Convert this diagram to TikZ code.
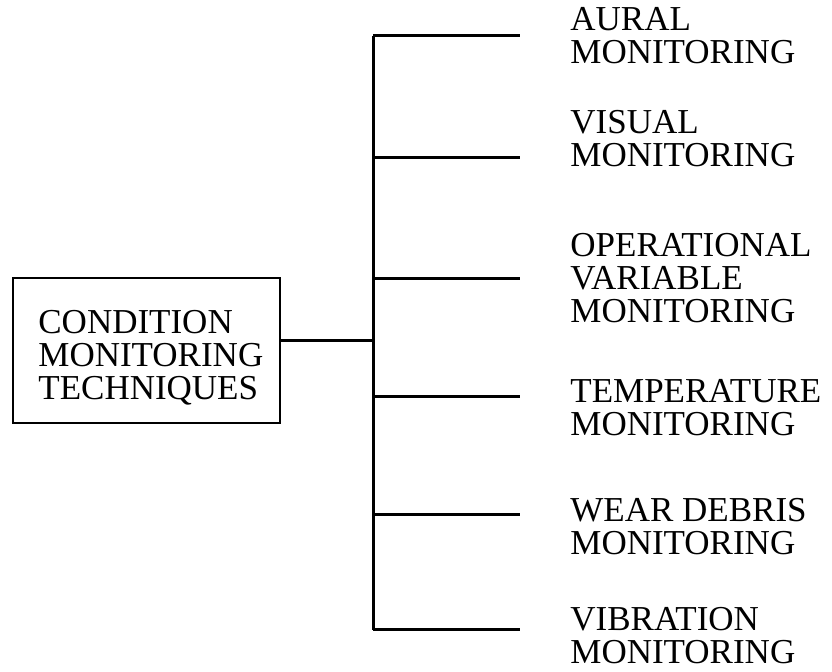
\documentclass[tikz,border=0pt]{standalone}
\usepackage{fontspec}
\setmainfont{Liberation Serif}
\usepackage{tikz}
\usetikzlibrary{positioning,calc}

\begin{document}
\begin{tikzpicture}[
    x=0.5pt, y=-0.5pt,
    techbox/.style={rectangle, draw, line width=1.2pt, minimum width=133.5pt, minimum height=72.5pt, inner sep=0pt},
    lbl/.style={anchor=west, align=left, inner sep=0pt, font=\fontsize{17.5pt}{16.5pt}\selectfont},
    branch/.style={line width=1.5pt},
]
    \useasboundingbox (0,0) rectangle (832,672);
    % main box on the left
    \node[techbox] (cmt) at (146.5,350.5) {};
    \node[lbl] (cmttxt) at (38,358) {CONDITION\\MONITORING\\TECHNIQUES};
    % trunk points and branch ends
    \coordinate (j) at (373,341);
    \coordinate (t1) at (373,36);  \coordinate (e1) at (520,36);
    \coordinate (t2) at (373,158); \coordinate (e2) at (520,158);
    \coordinate (t3) at (373,279); \coordinate (e3) at (520,279);
    \coordinate (t4) at (373,397); \coordinate (e4) at (520,397);
    \coordinate (t5) at (373,515); \coordinate (e5) at (520,515);
    \coordinate (t6) at (373,630); \coordinate (e6) at (520,630);
    % technique labels
    \node[lbl] (aural) at (570,36) {AURAL\\MONITORING};
    \node[lbl] (visual) at (570,139) {VISUAL\\MONITORING};
    \node[lbl] (opvar) at (570,278) {OPERATIONAL\\VARIABLE\\MONITORING};
    \node[lbl] (temp) at (570,408) {TEMPERATURE\\MONITORING};
    \node[lbl] (wear) at (570,527) {WEAR DEBRIS\\MONITORING};
    \node[lbl] (vib) at (570,636) {VIBRATION\\MONITORING};
    % connectors
    \draw[branch] (cmt.east |- j) -- (j);
    \draw[branch] (t1) -- (t6);
    \draw[branch] (t1) -- (e1);
    \draw[branch] (t2) -- (e2);
    \draw[branch] (t3) -- (e3);
    \draw[branch] (t4) -- (e4);
    \draw[branch] (t5) -- (e5);
    \draw[branch] (t6) -- (e6);
\end{tikzpicture}
\end{document}
